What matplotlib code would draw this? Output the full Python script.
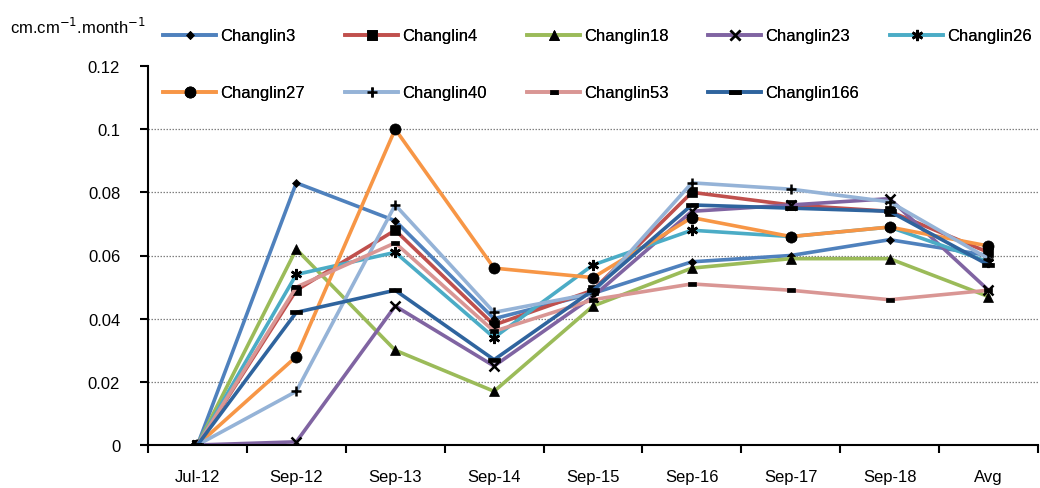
import matplotlib
matplotlib.use("Agg")
import matplotlib.pyplot as plt
from matplotlib.path import Path
from matplotlib.ticker import FixedLocator, FuncFormatter

plt.rcParams['font.family'] = ['Liberation Sans', 'DejaVu Sans']

categories = ["Jul-12", "Sep-12", "Sep-13", "Sep-14", "Sep-15", "Sep-16", "Sep-17", "Sep-18", "Avg"]

changlin3 = [0, 0.083, 0.071, 0.040, 0.048, 0.058, 0.060, 0.065, 0.060]
changlin4 = [0, 0.049, 0.068, 0.038, 0.049, 0.080, 0.076, 0.074, 0.061]
changlin18 = [0, 0.062, 0.030, 0.017, 0.044, 0.056, 0.059, 0.059, 0.047]
changlin23 = [0, 0.001, 0.044, 0.025, 0.047, 0.074, 0.076, 0.078, 0.049]
changlin26 = [0, 0.054, 0.061, 0.034, 0.057, 0.068, 0.066, 0.069, 0.058]
changlin27 = [0, 0.028, 0.100, 0.056, 0.053, 0.072, 0.066, 0.069, 0.063]
changlin40 = [0, 0.017, 0.076, 0.042, 0.048, 0.083, 0.081, 0.077, 0.059]
changlin53 = [0, 0.050, 0.064, 0.036, 0.046, 0.051, 0.049, 0.046, 0.049]
changlin166 = [0, 0.042, 0.049, 0.027, 0.049, 0.076, 0.075, 0.074, 0.057]

series_names = ["Changlin3", "Changlin4", "Changlin18", "Changlin23", "Changlin26",
                "Changlin27", "Changlin40", "Changlin53", "Changlin166"]
series_values = [changlin3, changlin4, changlin18, changlin23, changlin26,
                 changlin27, changlin40, changlin53, changlin166]

colors = ["#4F81BD", "#C0504D", "#9BBB59", "#8064A2", "#4BACC6",
          "#F79646", "#95B3D7", "#D99694", "#2F649E"]

short_dash = Path([(-1, -0.45), (1, -0.45), (1, 0.45), (-1, 0.45), (-1, -0.45)],
                  [Path.MOVETO, Path.LINETO, Path.LINETO, Path.LINETO, Path.CLOSEPOLY])
long_dash = Path([(-1, -0.3), (1, -0.3), (1, 0.3), (-1, 0.3), (-1, -0.3)],
                 [Path.MOVETO, Path.LINETO, Path.LINETO, Path.LINETO, Path.CLOSEPOLY])
markers = ['D', 's', '^', 'x', (6, 2, 0), 'o', '+', short_dash, long_dash]
msizes = [4.5, 7, 7.5, 7, 8, 8, 7, 6, 9]

fig = plt.figure(figsize=(10.4, 4.89), dpi=100)
ax = fig.add_axes([148/1040, 43/489, 1 - 148/1040 - 0.002, (446-67)/489])

x = list(range(len(categories)))
handles = []
for name, vals, c, m, ms in zip(series_names, series_values, colors, markers, msizes):
    h, = ax.plot(x, vals, color=c, lw=2.6, marker=m, markersize=ms,
                 markerfacecolor='black', markeredgecolor='black',
                 markeredgewidth=1.8 if m in ('x', '+') or isinstance(m, tuple) else 0.5,
                 label=name, solid_joinstyle='round')
    handles.append(h)

ax.set_xlim(-0.5, len(categories) - 0.5)
ax.set_ylim(0, 0.12)

for yv in [0.02, 0.04, 0.06, 0.08, 0.10]:
    ax.axhline(yv, color='#808080', lw=0.9, ls=(0, (1.2, 1.2)), zorder=0)

ax.yaxis.set_major_locator(FixedLocator([0, 0.02, 0.04, 0.06, 0.08, 0.10, 0.12]))
ax.yaxis.set_major_formatter(FuncFormatter(lambda v, p: "%g" % round(v, 2)))
ax.set_xticks(x)
ax.set_xticklabels(categories)
ax.set_xticks([i + 0.5 for i in range(-1, len(categories))], minor=True)
ax.tick_params(axis='x', which='major', length=0, pad=17, labelsize=12)
ax.tick_params(axis='x', which='minor', length=6, width=1.5, direction='out')
ax.tick_params(axis='y', which='major', length=6, width=1.5, direction='out', pad=14, labelsize=12)

for s in ['top', 'right']:
    ax.spines[s].set_visible(False)
ax.spines['left'].set_linewidth(1.5)
ax.spines['bottom'].set_linewidth(1.5)

fig.text(10/1040, 1 - 27/489, r"cm.cm$^{-1}$.month$^{-1}$", fontsize=12, va='center', ha='left')

# legend entries placed in a 5 x 2 grid, like the reference
col_x = [163, 345, 527, 708, 890]
row_y = [37, 94]
for i, (h, name) in enumerate(zip(handles, series_names)):
    r, cidx = divmod(i, 5)
    leg = fig.legend([h], [name], loc='center left',
                     bbox_to_anchor=(col_x[cidx]/1040, 1 - row_y[r]/489),
                     frameon=False, fontsize=12, handlelength=3.2,
                     handletextpad=0.25, borderaxespad=0, borderpad=0)
    fig.add_artist(leg)

fig.savefig("out.png", dpi=100)
